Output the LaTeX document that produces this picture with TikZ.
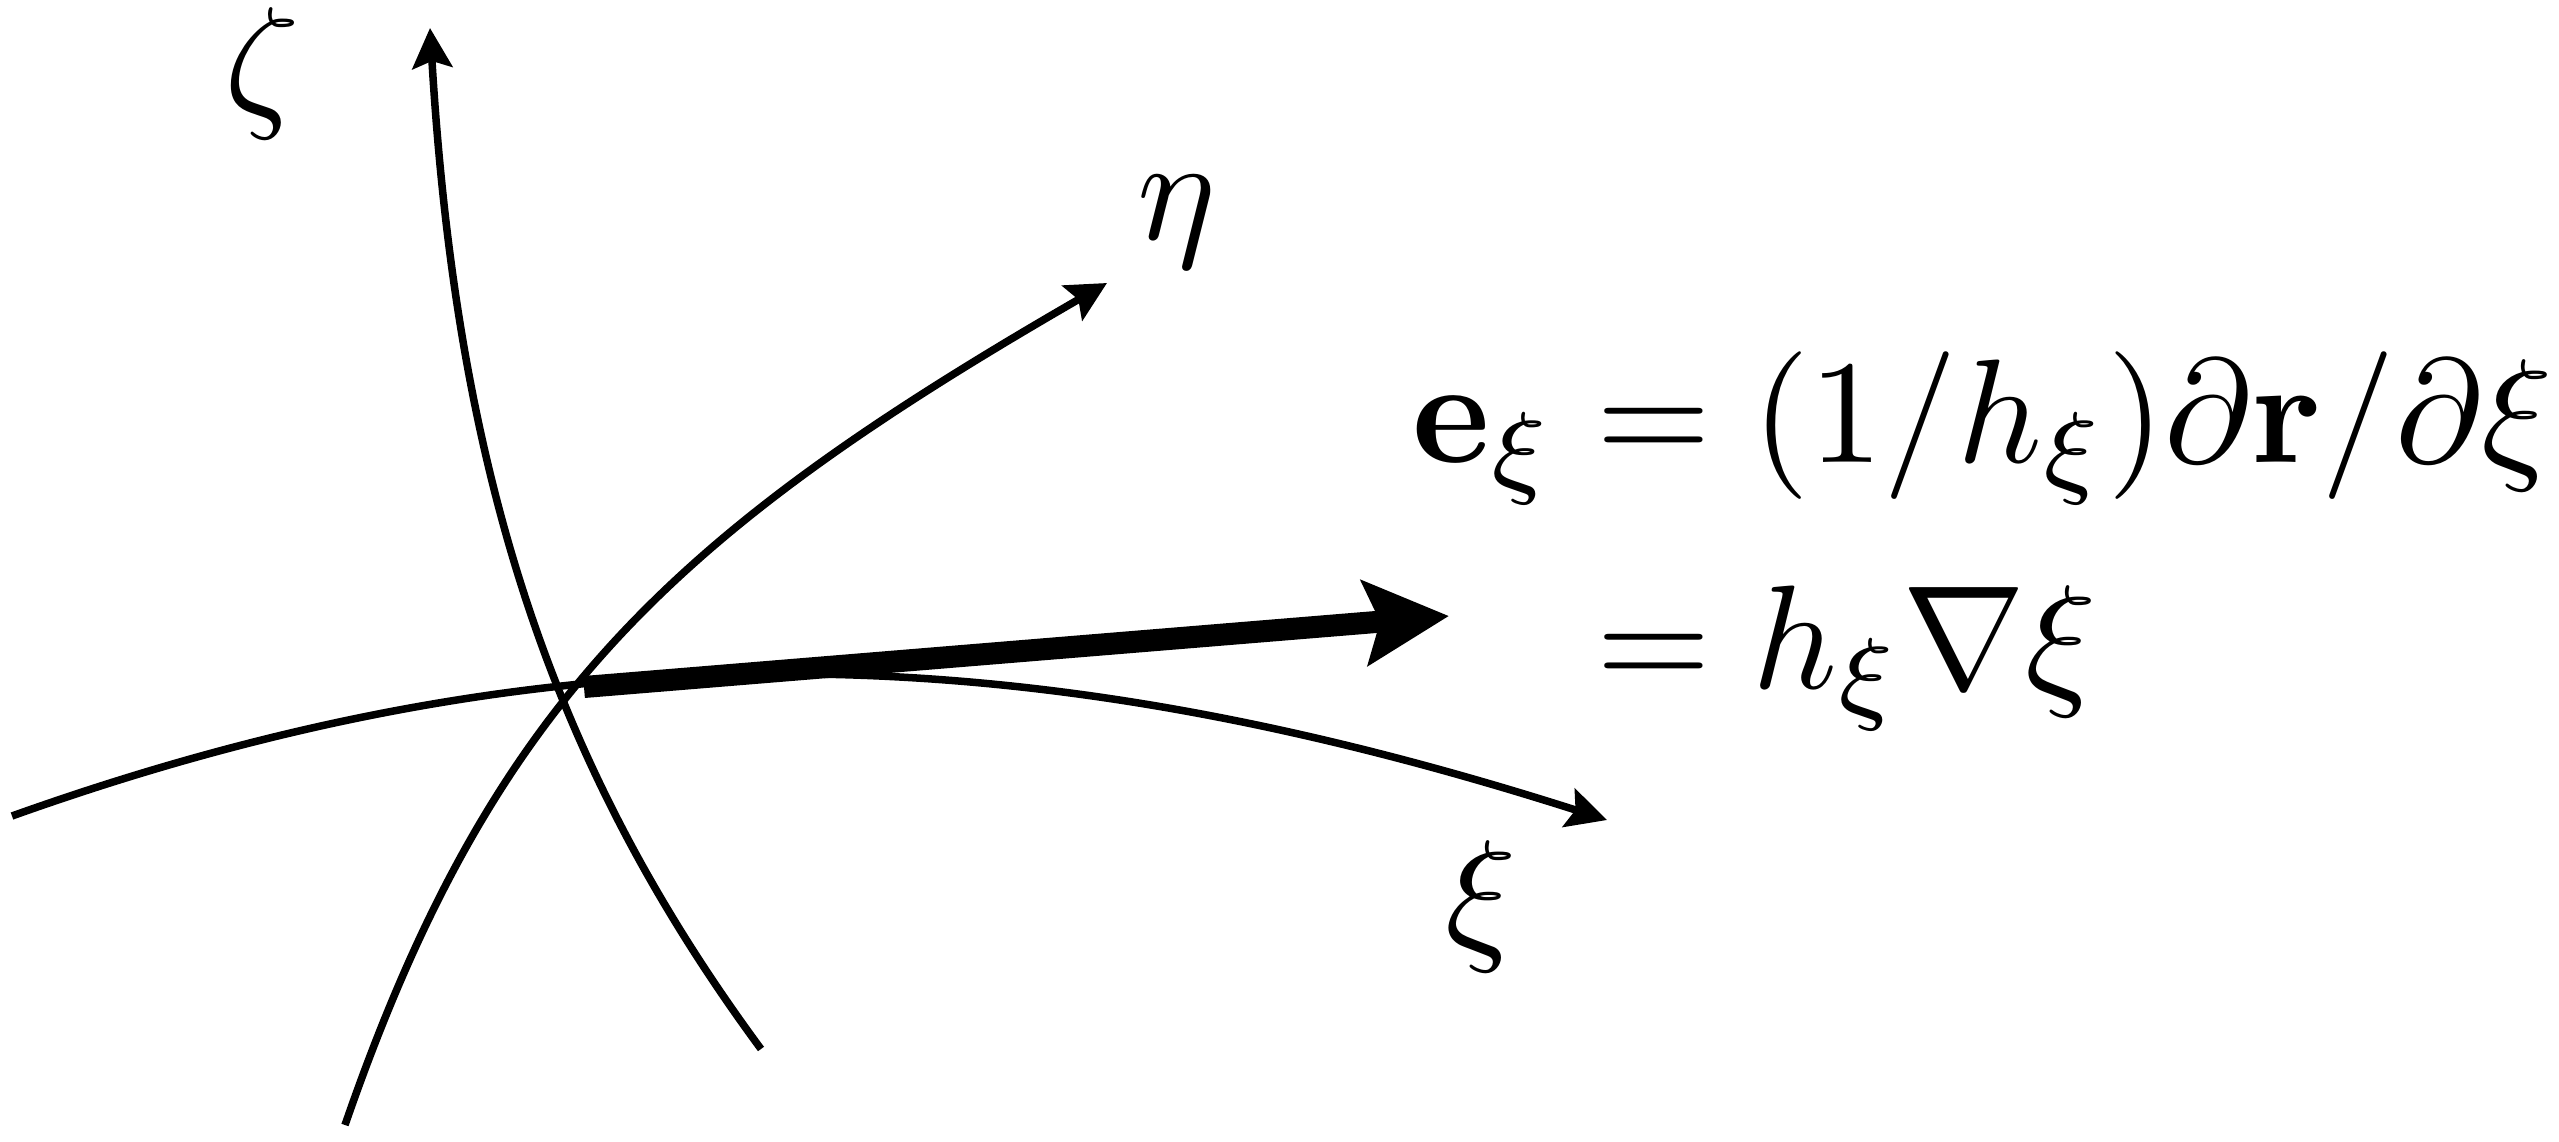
\documentclass[tikz,border=0pt]{standalone}
\usepackage{amsmath}
\usetikzlibrary{arrows.meta}

\tikzset{
    coordcurve/.style={line width=0.75mm, -{Stealth[length=4mm,width=4mm,inset=0.7mm]}},
    unitvector/.style={line width=2.2mm, -{Stealth[length=8.4mm,width=8.4mm,inset=1.5mm]}},
    axislabel/.style={inner sep=0pt, anchor=base, scale=4.2},
    formulaline/.style={inner sep=0pt, anchor=base west, scale=4.2}
}

\begin{document}
\begin{tikzpicture}[x=0.01cm, y=-0.01cm]
    \useasboundingbox (0,0) rectangle (2559,1142);

    \coordinate (zetaStart) at (761,1049);
    \coordinate (zetaEnd) at (430,28);
    \coordinate (etaStart) at (345,1125);
    \coordinate (etaEnd) at (1107,283);
    \coordinate (xiStart) at (12,816);
    \coordinate (xiEnd) at (1607,820);
    \coordinate (vecStart) at (584,687);
    \coordinate (vecEnd) at (1449,616);

    % coordinate curves
    \draw[coordcurve] (zetaStart) .. controls (553,767) and (457,478) .. (zetaEnd);
    \draw[coordcurve] (etaStart) .. controls (492,700) and (674,533) .. (etaEnd);
    \draw[coordcurve] (xiStart) .. controls (572,616) and (1040,639) .. (xiEnd);
    % unit vector
    \draw[unitvector] (vecStart) -- (vecEnd);

    \node[axislabel] (zetaLabel) at (262,110) {$\zeta$};
    \node[axislabel] (etaLabel) at (1177,239) {$\eta$};
    \node[axislabel] (xiLabel) at (1481,943) {$\xi$};

    \node[formulaline] (lineOne) at (1410,462)
        {$\mathbf{e}_\xi = (1/h_\xi)\partial\mathbf{r}/\partial\xi$};
    \node[formulaline] (lineTwo) at (1410,688)
        {$\phantom{\mathbf{e}_\xi} = h_\xi\nabla\xi$};
\end{tikzpicture}
\end{document}
